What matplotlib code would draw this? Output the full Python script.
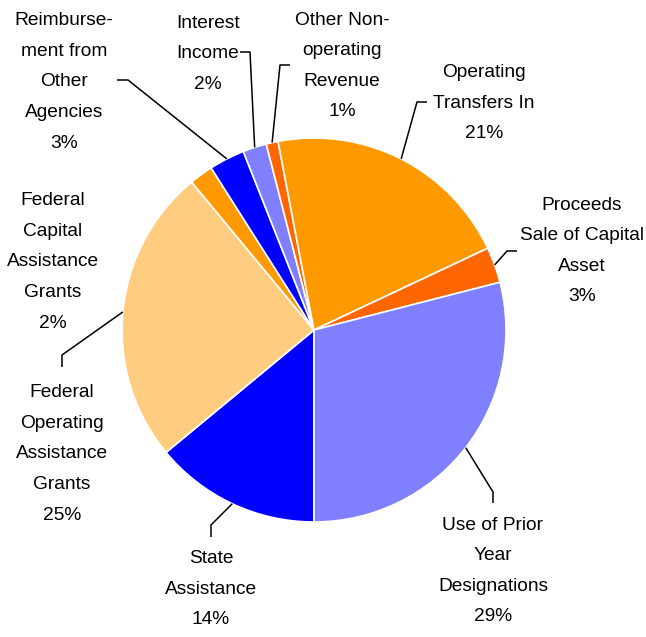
import matplotlib.pyplot as plt
import numpy as np

# revenue sources, clockwise from the bottom of the pie
labels = ["State\nAssistance",
          "Federal\nOperating\nAssistance\nGrants",
          "Federal\nCapital\nAssistance\nGrants",
          "Reimburse-\nment from\nOther\nAgencies",
          "Interest\nIncome",
          "Other Non-\noperating\nRevenue",
          "Operating\nTransfers In",
          "Proceeds\nSale of Capital\nAsset",
          "Use of Prior\nYear\nDesignations"]
shares = [14, 25, 2, 3, 2, 1, 21, 3, 29]
colors = ["#0000FF", "#FFCC80", "#FF9900", "#0000FF", "#8080FF",
          "#FF6600", "#FF9900", "#FF6600", "#8080FF"]

# label block centres and leader lines (end at text, elbow), in pixels from top-left
text_pos = [(211, 589), (62, 454), (53, 262), (64, 82), (208, 54),
            (342, 66), (484, 103), (582, 251), (493, 571)]
leaders = [((211, 537), (211, 525)), ((62, 367), (62, 355)), None,
           ((117, 80), (128, 80)), ((240, 52), (250, 52)),
           ((290, 65), (280, 65)), ((427, 102), (417, 102)),
           ((517, 251), (507, 251)), ((493, 503), (493, 492))]

W, H = 646, 637
cx, cy, R = 314, 330, 192

fig = plt.figure(figsize=(W / 100, H / 100), dpi=100)
ax = fig.add_axes([0, 0, 1, 1])

# y axis runs downward, so counterclock in data = clockwise on screen
wedges, _ = ax.pie(shares, colors=colors, startangle=90, counterclock=True,
                   center=(cx, cy), radius=R,
                   wedgeprops=dict(edgecolor="white", linewidth=1.2))
ax.set_xlim(0, W)
ax.set_ylim(H, 0)
ax.set_aspect("equal")
ax.axis("off")

for w, lab, s, pos, ld in zip(wedges, labels, shares, text_pos, leaders):
    ax.text(pos[0], pos[1], f"{lab}\n{s}%", ha="center", va="center",
            fontsize=13.8, family="Liberation Sans", linespacing=2.05,
            color="black")
    if ld is None:
        continue
    mid = np.deg2rad((w.theta1 + w.theta2) / 2)
    px, py = cx + R * np.cos(mid), cy + R * np.sin(mid)
    (ex, ey), (bx, by) = ld
    ax.plot([ex, bx, px], [ey, by, py], color="black", lw=1.1,
            solid_capstyle="butt")

fig.savefig("out.png", dpi=100)
